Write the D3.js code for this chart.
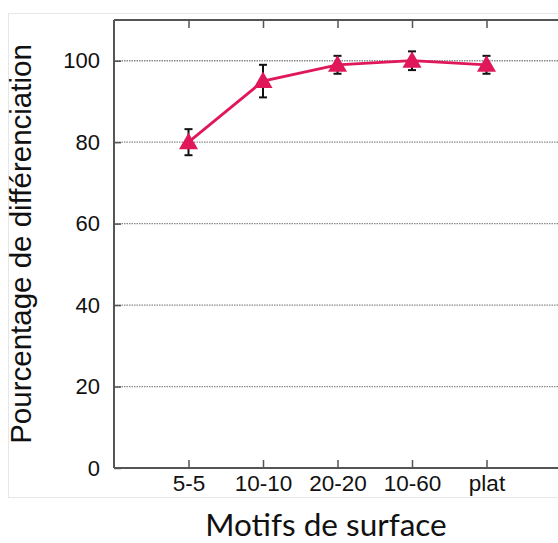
<!DOCTYPE html>
<html>
<head>
<meta charset="utf-8">
<script src="https://cdn.jsdelivr.net/npm/d3@7"></script>
<style>
html,body{margin:0;padding:0;background:#fff;}
svg{display:block;}
</style>
</head>
<body>
<svg id="chart" width="558" height="543"></svg>
<script>
const categories = ["5-5", "10-10", "20-20", "10-60", "plat"];
const values = [80, 95, 99, 100, 99];
const errors = [3.2, 4.0, 2.2, 2.3, 2.2];
const yTicks = [0, 20, 40, 60, 80, 100];
const gridTicks = [20, 40, 60, 80, 100];

const svg = d3.select("#chart");
const W = 558, H = 543;
const mLeft = 114, mTop = 20, mBottom = 468, mRight = 561;

// outer light frame
svg.append("rect").attr("x", 8.5).attr("y", 13.5).attr("width", 560).attr("height", 484)
  .attr("fill", "none").attr("stroke", "#e6e6e6").attr("stroke-width", 1);

const x = d3.scaleLinear().domain([-1, categories.length]).range([mLeft, mRight]);
const y = d3.scaleLinear().domain([0, 110]).range([mBottom, mTop]);

// grid
svg.append("g").selectAll("line").data(gridTicks).join("line")
  .attr("x1", mLeft).attr("x2", W)
  .attr("y1", d => y(d)).attr("y2", d => y(d))
  .attr("stroke", "#8a8a8a").attr("stroke-width", 1.3)
  .attr("stroke-dasharray", "1.5,1");

// axes
const axisColor = "#555";
const gL = svg.append("g").attr("transform", `translate(${mLeft},0)`)
  .call(d3.axisLeft(y).tickValues(yTicks).tickSize(0).tickPadding(14).tickFormat(d3.format("d")));
const gB = svg.append("g").attr("transform", `translate(0,${mBottom})`)
  .call(d3.axisBottom(x).tickValues(d3.range(categories.length)).tickSize(-8).tickPadding(8)
    .tickFormat(i => categories[i]));
const gT = svg.append("g").attr("transform", `translate(0,${mTop})`)
  .call(d3.axisTop(x).tickValues(d3.range(categories.length)).tickSize(-8).tickFormat(""));

[gL, gB, gT].forEach(g => {
  g.select(".domain").attr("stroke", axisColor).attr("stroke-width", 2);
  g.selectAll(".tick line").attr("stroke", axisColor).attr("stroke-width", 1.5);
  g.selectAll("text").attr("fill", "#111")
    .attr("font-family", "Liberation Sans, Arial, sans-serif").attr("font-size", 22);
});
gB.selectAll("text").attr("font-size", 22.5);
gL.selectAll(".tick").append("line").attr("x1", 0).attr("x2", 7)
  .attr("stroke", axisColor).attr("stroke-width", 1.5);
gL.select(".domain").attr("d", `M0,${mBottom}V${mTop}`);
gB.select(".domain").attr("d", `M${mLeft},0H${W}`);
gT.select(".domain").attr("d", `M${mLeft},0H${W}`);
gB.selectAll("text").attr("y", 7).attr("dy", "0.71em");

// error bars
const eb = svg.append("g").attr("stroke", "#111").attr("stroke-width", 2);
values.forEach((v, i) => {
  const cx = x(i);
  eb.append("line").attr("x1", cx).attr("x2", cx).attr("y1", y(v + errors[i])).attr("y2", y(v - errors[i]));
  eb.append("line").attr("x1", cx - 4).attr("x2", cx + 4).attr("y1", y(v + errors[i])).attr("y2", y(v + errors[i]));
  eb.append("line").attr("x1", cx - 4).attr("x2", cx + 4).attr("y1", y(v - errors[i])).attr("y2", y(v - errors[i]));
});

// line
const color = "#e0185a";
svg.append("path").datum(values)
  .attr("fill", "none").attr("stroke", color).attr("stroke-width", 2.8)
  .attr("d", d3.line().x((d, i) => x(i)).y(d => y(d)));

// triangles
svg.append("g").selectAll("path").data(values).join("path")
  .attr("transform", (d, i) => `translate(${x(i)},${y(d)})`)
  .attr("d", "M0,-9.5L9.5,7L-9.5,7Z")
  .attr("fill", color);

// titles
svg.append("text")
  .attr("transform", `translate(31,244) rotate(-90)`)
  .attr("text-anchor", "middle")
  .attr("font-family", "Liberation Sans, Arial, sans-serif")
  .attr("font-size", 29.5).attr("fill", "#111")
  .text("Pourcentage de différenciation");

svg.append("text")
  .attr("x", 326).attr("y", 536)
  .attr("text-anchor", "middle")
  .attr("font-family", "Lato, 'Open Sans', sans-serif")
  .attr("font-size", 31.5).attr("fill", "#111")
  .text("Motifs de surface");
</script>
</body>
</html>
